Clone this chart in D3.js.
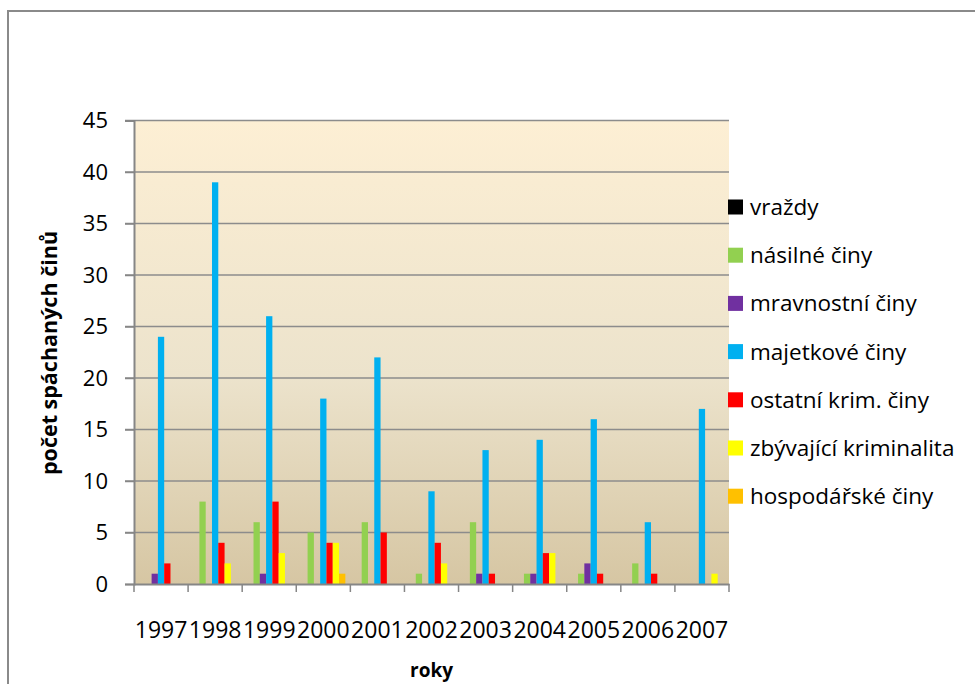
<!DOCTYPE html>
<html>
<head>
  <meta charset="utf-8">
  <script src="https://d3js.org/d3.v7.min.js"></script>
  <style>
    body { margin: 0; background: #fff; }
    text { font-family: "Open Sans", sans-serif; fill: #000; }
  </style>
</head>
<body>
<script>
  // roky (x categories)
  var years = ["1997", "1998", "1999", "2000", "2001", "2002", "2003", "2004", "2005", "2006", "2007"];

  // počty činů po druzích
  var vrazdy       = [0, 0, 0, 0, 0, 0, 0, 0, 0, 0, 0];
  var nasilne      = [0, 8, 6, 5, 6, 1, 6, 1, 1, 2, 0];
  var mravnostni   = [1, 0, 1, 0, 0, 0, 1, 1, 2, 0, 0];
  var majetkove    = [24, 39, 26, 18, 22, 9, 13, 14, 16, 6, 17];
  var ostatni      = [2, 4, 8, 4, 5, 4, 1, 3, 1, 1, 0];
  var zbyvajici    = [0, 2, 3, 4, 0, 2, 0, 3, 0, 0, 1];
  var hospodarske  = [0, 0, 0, 1, 0, 0, 0, 0, 0, 0, 0];

  var seriesNames = ["vraždy", "násilné činy", "mravnostní činy", "majetkové činy",
                     "ostatní krim. činy", "zbývající kriminalita", "hospodářské činy"];
  var seriesValues = [vrazdy, nasilne, mravnostni, majetkove, ostatni, zbyvajici, hospodarske];
  var colors = ["#000000", "#92D050", "#7030A0", "#00B0F0", "#FF0000", "#FFFF00", "#FFC000"];
  var yTicks = [0, 5, 10, 15, 20, 25, 30, 35, 40, 45];

  var W = 975, H = 684;
  var pLeft = 134, pRight = 729, pTop = 120.5, pBottom = 584;

  var svg = d3.select("body").append("svg")
      .attr("width", W)
      .attr("height", H);

  // chart area border (runs off the right and bottom edge)
  svg.append("rect")
      .attr("x", 8).attr("y", 11)
      .attr("width", W + 20).attr("height", H + 20)
      .attr("fill", "#fff")
      .attr("stroke", "#8a8a8a")
      .attr("stroke-width", 2);

  var defs = svg.append("defs");
  var grad = defs.append("linearGradient")
      .attr("id", "bg").attr("x1", 0).attr("y1", 0).attr("x2", 0).attr("y2", 1);
  grad.append("stop").attr("offset", "0%").attr("stop-color", "#FDEFD4");
  grad.append("stop").attr("offset", "55%").attr("stop-color", "#ECE3CC");
  grad.append("stop").attr("offset", "100%").attr("stop-color", "#D6C6A3");

  var x = d3.scaleBand().domain(years).range([pLeft, pRight]);
  var x1 = d3.scaleBand().domain(d3.range(seriesNames.length))
      .range([0, x.bandwidth()]).paddingOuter(0.8);
  var y = d3.scaleLinear().domain([0, 45]).range([pBottom, pTop]);

  svg.append("rect")
      .attr("x", pLeft).attr("y", pTop)
      .attr("width", pRight - pLeft).attr("height", pBottom - pTop)
      .attr("fill", "url(#bg)");

  // gridlines
  svg.append("g").selectAll("line")
    .data(yTicks.filter(function(d) { return d > 0; }))
    .enter().append("line")
      .attr("x1", pLeft - 9).attr("x2", pRight)
      .attr("y1", function(d) { return y(d); })
      .attr("y2", function(d) { return y(d); })
      .attr("stroke", "#8c8c8c")
      .attr("stroke-width", 1.5);

  // bars
  var groups = svg.append("g").selectAll("g")
    .data(years)
    .enter().append("g")
      .attr("transform", function(d) { return "translate(" + x(d) + ",0)"; });

  groups.selectAll("rect")
    .data(function(d, i) {
      return seriesValues.map(function(arr, s) { return {s: s, v: arr[i]}; });
    })
    .enter().append("rect")
      .attr("x", function(d) { return x1(d.s); })
      .attr("width", x1.bandwidth())
      .attr("y", function(d) { return y(d.v); })
      .attr("height", function(d) { return pBottom - y(d.v); })
      .attr("fill", function(d) { return colors[d.s]; });

  // y axis
  var yAxis = svg.append("g")
      .attr("transform", "translate(" + pLeft + ",0)")
      .call(d3.axisLeft(y).tickValues(yTicks).tickSize(9).tickPadding(17));
  yAxis.select(".domain").attr("stroke", "#868686").attr("stroke-width", 2);
  yAxis.selectAll(".tick line").attr("stroke", "#868686").attr("stroke-width", 1.5);
  yAxis.selectAll(".tick text")
      .style("font-family", "'Open Sans', sans-serif")
      .style("font-size", "22px")
      .attr("fill", "#000");

  // x axis
  var xAxis = svg.append("g")
      .attr("transform", "translate(0," + pBottom + ")")
      .call(d3.axisBottom(x).tickSize(0).tickPadding(38));
  xAxis.select(".domain").attr("stroke", "#868686").attr("stroke-width", 2);
  xAxis.selectAll(".tick text")
      .style("font-family", "'Open Sans', sans-serif")
      .style("font-size", "23px")
      .attr("fill", "#000");
  // tick marks at band boundaries
  xAxis.append("g").selectAll("line")
    .data(years.concat(["end"]))
    .enter().append("line")
      .attr("x1", function(d, i) { return pLeft + i * x.step(); })
      .attr("x2", function(d, i) { return pLeft + i * x.step(); })
      .attr("y1", 0).attr("y2", 8)
      .attr("stroke", "#868686")
      .attr("stroke-width", 1.5);

  // axis titles
  svg.append("text")
      .attr("x", (pLeft + pRight) / 2).attr("y", 677)
      .attr("text-anchor", "middle")
      .style("font-size", "19px").style("font-weight", "bold")
      .text("roky");

  svg.append("text")
      .attr("transform", "translate(57,353) rotate(-90)")
      .attr("text-anchor", "middle")
      .style("font-size", "21.5px").style("font-weight", "bold")
      .text("počet spáchaných činů");

  // legend
  var legend = svg.append("g").selectAll("g")
    .data(seriesNames)
    .enter().append("g")
      .attr("transform", function(d, i) { return "translate(728," + (207 + i * 48.2) + ")"; });

  legend.append("rect")
      .attr("x", 0).attr("y", -7.5)
      .attr("width", 15).attr("height", 15)
      .attr("fill", function(d, i) { return colors[i]; });

  legend.append("text")
      .attr("x", 22).attr("y", 8)
      .style("font-size", "22.5px")
      .text(function(d) { return d; });
</script>
</body>
</html>
